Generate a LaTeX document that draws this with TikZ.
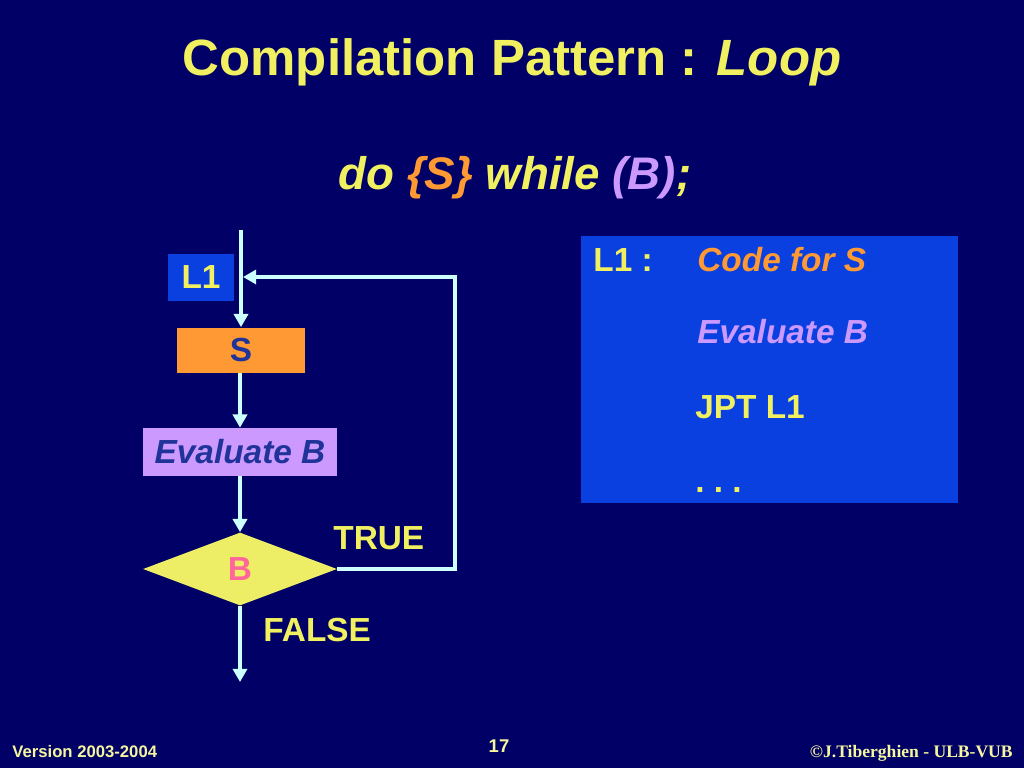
\documentclass[tikz,border=0pt]{standalone}
\usepackage{fontspec}
\setmainfont{Liberation Sans}
\newfontfamily\timesfont{Liberation Serif}
\usetikzlibrary{arrows.meta,shapes.geometric}
\definecolor{bg}{HTML}{000066}
\definecolor{ylw}{HTML}{F0F060}
\definecolor{boxblue}{HTML}{0B40E0}
\definecolor{org}{HTML}{FF9933}
\definecolor{lav}{HTML}{CC99FF}
\definecolor{dkblue}{HTML}{1F3399}
\definecolor{pnk}{HTML}{FF6699}
\definecolor{dmd}{HTML}{EEEE66}
\definecolor{cyanline}{HTML}{CCFFFF}
\begin{document}
\begin{tikzpicture}[x=0.02cm,y=-0.02cm,
  conn/.style={draw=cyanline,line width=2.5pt},
  arr/.style={conn,-{Triangle[width=8pt,length=7.5pt]}},
  fbox/.style={inner sep=0pt,font=\fontsize{19}{22}\selectfont\bfseries},
  lbl/.style={inner sep=0pt,anchor=base west,font=\fontsize{19}{22}\selectfont\bfseries,text=ylw}
]
\useasboundingbox[fill=bg] (0,0) rectangle (1024,768);
% title
\node[anchor=base,inner sep=0pt,text=ylw,font=\fontsize{29}{34}\selectfont\bfseries] (title) at (512,75) {Compilation Pattern : \textit{Loop}};
\node[anchor=base,inner sep=0pt,text=ylw,font=\fontsize{26}{30}\selectfont\bfseries\itshape] (sub) at (515,189) {do \textcolor{org}{\{S\}} while \textcolor{lav}{(B)};};
% flowchart
\node[fbox,fill=boxblue,text=ylw,minimum width=66*0.02cm,minimum height=47*0.02cm] (l1) at (201,277) {L1};
\node[fbox,fill=org,text=dkblue,minimum width=128*0.02cm,minimum height=45*0.02cm] (s) at (241,350) {S};
\node[fbox,fill=lav,text=dkblue,minimum width=194*0.02cm,minimum height=48*0.02cm,font=\fontsize{19}{22}\selectfont\bfseries\itshape] (ev) at (240,452) {Evaluate B};
\node[diamond,fill=dmd,inner sep=0pt,minimum width=194*0.02cm,minimum height=73*0.02cm,text=pnk,font=\fontsize{19}{22}\selectfont\bfseries] (b) at (240,569) {B};
\coordinate (top) at (241,230);
\coordinate (ret) at (243,277);
\coordinate (c1) at (455,569);
\coordinate (c2) at (455,277);
\coordinate (end) at (240,682);
\draw[arr] (top) -- (top |- s.north);
\draw[arr] (s.south -| 240,0) -- (ev.north);
\draw[arr] (ev.south) -- (b.north);
\draw[arr] (b.south) -- (end);
\draw[arr,line join=miter] (b.east) -- (c1) -- (c2) -- (ret);
\node[lbl] (true) at (333,549) {TRUE};
\node[lbl] (false) at (263,641) {FALSE};
% code box
\node[fill=boxblue,inner sep=0pt,minimum width=377*0.02cm,minimum height=267*0.02cm] (code) at (769.5,369.5) {};
\node[lbl] (cl1) at (593,271) {L1 :};
\node[lbl,text=org,font=\fontsize{19}{22}\selectfont\bfseries\itshape] (cs) at (697,271) {Code for S};
\node[lbl,text=lav,font=\fontsize{19}{22}\selectfont\bfseries\itshape] (ce) at (697,343) {Evaluate B};
\node[lbl] (cj) at (695,418) {JPT L1};
\node[lbl] (cd) at (695,492) {.\ .\ .};
% footer
\node[anchor=base west,inner sep=0pt,text=ylw!60!white,font=\fontsize{9.5}{11}\selectfont\bfseries] (ver) at (12,757) {Version 2003-2004};
\node[anchor=base,inner sep=0pt,text=ylw!60!white,font=\fontsize{10.5}{12}\selectfont\bfseries] (pg) at (499,752) {17};
\node[anchor=base east,inner sep=0pt,text=ylw!60!white,font=\timesfont\fontsize{10}{12}\selectfont\bfseries] (cp) at (1013,757) {©J.Tiberghien - ULB-VUB};
\end{tikzpicture}
\end{document}
